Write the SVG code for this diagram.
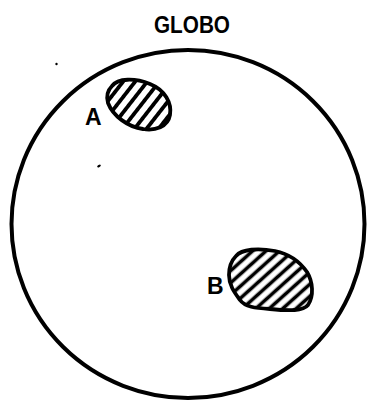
<svg xmlns="http://www.w3.org/2000/svg" width="367" height="401" viewBox="0 0 367 401">
  <style>
    .outline { fill: none; stroke: #000; stroke-width: 4; stroke-linejoin: round; }
    .blob { stroke: #000; stroke-width: 3.8; stroke-linejoin: round; }
    .label { font-family: "Liberation Sans", Arial, sans-serif; font-size: 23px; font-weight: bold; fill: #000; }
    .title { font-family: "Liberation Sans Narrow", "Liberation Sans", Arial, sans-serif; font-size: 23px; font-weight: bold; fill: #000; }
  </style>
  <defs>
    <pattern id="hatchA" patternUnits="userSpaceOnUse" width="9.5" height="9.5" patternTransform="rotate(38)">
      <rect width="9.5" height="9.5" fill="#fff"/>
      <line x1="4.75" y1="0" x2="4.75" y2="9.5" stroke="#000" stroke-width="3.8"/>
    </pattern>
    <pattern id="hatchB" patternUnits="userSpaceOnUse" width="9" height="9" patternTransform="rotate(48)">
      <rect width="9" height="9" fill="#fff"/>
      <line x1="4.5" y1="0" x2="4.5" y2="9" stroke="#000" stroke-width="3.6"/>
    </pattern>
  </defs>
  <rect width="367" height="401" fill="#fff"/>

  <g id="title">
    <text class="title" x="154" y="33" textLength="76" lengthAdjust="spacingAndGlyphs">GLOBO</text>
  </g>

  <g id="globe">
    <ellipse class="outline" cx="188" cy="224" rx="176.5" ry="174"/>
  </g>

  <g id="region-A">
    <path class="blob" fill="url(#hatchA)" d="M 112,86 C 118,78 135,78 150,84 C 165,90 172,103 170,115 C 168,127 155,131 143,129 C 128,127 113,116 108,103 C 106,96 108,90 112,86 Z"/>
    <text class="label" x="85" y="125">A</text>
  </g>

  <g id="region-B">
    <path class="blob" fill="url(#hatchB)" d="M 236,256 C 242,249 258,248 275,251 C 290,254 300,262 307,272 C 313,282 314,296 308,305 C 303,311 290,311 270,309 C 255,308 245,307 240,300 C 234,292 229,285 229,275 C 229,266 231,261 236,256 Z"/>
    <text class="label" x="207" y="294">B</text>
  </g>

  <g id="specks" fill="#000">
    <circle cx="56.5" cy="64" r="1.2"/>
    <ellipse cx="99" cy="166" rx="2" ry="1.1" transform="rotate(-30 99 166)"/>
  </g>
</svg>
